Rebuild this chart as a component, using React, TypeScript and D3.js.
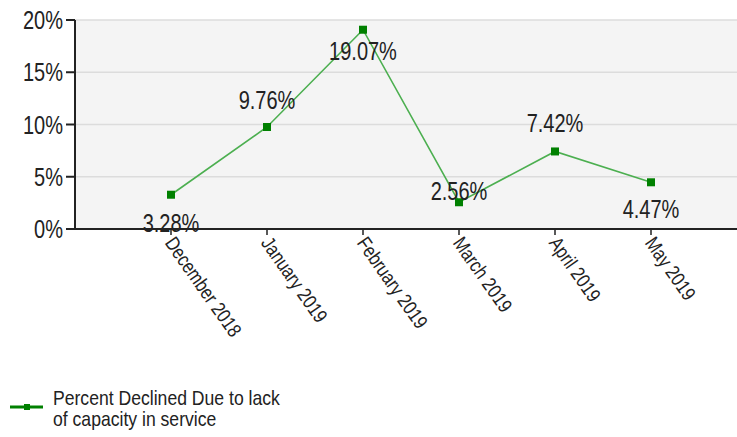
import React from "react";
import * as d3 from "d3";

const categories = ["December 2018", "January 2019", "February 2019", "March 2019", "April 2019", "May 2019"];
const values = [3.28, 9.76, 19.07, 2.56, 7.42, 4.47];
const yTicks = [0, 5, 10, 15, 20];
const seriesName = ["Percent Declined Due to lack", "of capacity in service"];

const W = 737, H = 437;
const FONT = "'Liberation Sans', Arial, sans-serif";
const SX = 0.8; // horizontal condensation to mimic a narrow font
// label offset (px, relative to point) chosen to avoid overlaps, like the original
const labelDy = [37, -18, 30, -2, -19, 36];

export default function App() {
  const plotLeft = 75, plotTop = 20, plotBottom = 229;
  const x = d3.scalePoint<string>().domain(categories).range([171, 651]);
  const y = d3.scaleLinear().domain([0, 20]).range([plotBottom, plotTop]);
  const line = d3.line<number>().x((_, i) => x(categories[i])!).y(d => y(d));

  return (
    <svg width={W} height={H} style={{ position: "absolute", left: 0, top: 0, background: "#fff" }} fontFamily={FONT}>
      <rect x={plotLeft} y={plotTop} width={W - plotLeft} height={plotBottom - plotTop} fill="#f4f4f4" />
      {yTicks.map(t => (
        <g key={t}>
          {t > 0 && <line x1={plotLeft} x2={W} y1={y(t)} y2={y(t)} stroke="#dcdcdc" strokeWidth={1.5} />}
          <text transform={`translate(${plotLeft - 12},${y(t)}) scale(${SX},1)`} dy="0.36em" textAnchor="end" fontSize={25} fill="#222">{t}%</text>
        </g>
      ))}
      <path d={line(values)!} fill="none" stroke="#4caf50" strokeWidth={1.6} />
      {values.map((v, i) => (
        <rect key={i} x={x(categories[i])! - 4} y={y(v) - 4} width={8} height={8} fill="#008000" />
      ))}
      {values.map((v, i) => (
        <text key={i} transform={`translate(${x(categories[i])!},${y(v) + labelDy[i]}) scale(${SX},1)`} textAnchor="middle" fontSize={25} fill="#222">
          {v.toFixed(2)}%
        </text>
      ))}
      {yTicks.map(t => (
        <line key={t} x1={plotLeft - 9} x2={plotLeft} y1={y(t)} y2={y(t)} stroke="#222" strokeWidth={2} />
      ))}
      <line x1={plotLeft} x2={plotLeft} y1={plotTop} y2={plotBottom + 1} stroke="#222" strokeWidth={2} />
      <line x1={plotLeft - 9} x2={W} y1={plotBottom} y2={plotBottom} stroke="#222" strokeWidth={2} />
      {categories.map(c => (
        <g key={c}>
          <line x1={x(c)!} x2={x(c)!} y1={plotBottom} y2={plotBottom + 6} stroke="#222" strokeWidth={1.5} />
          <text transform={`translate(${x(c)! - 1},${plotBottom + 10}) rotate(55) scale(0.82,1)`} dy="0.35em" textAnchor="start" fontSize={20} fill="#222">{c}</text>
        </g>
      ))}
      <line x1={10} x2={43} y1={407} y2={407} stroke="#008000" strokeWidth={3} />
      <rect x={24} y={404} width={6} height={6} fill="#008000" />
      {seriesName.map((s, i) => (
        <text key={i} transform={`translate(53,${405 + i * 21}) scale(0.88,1)`} fontSize={20} fill="#222">{s}</text>
      ))}
    </svg>
  );
}
